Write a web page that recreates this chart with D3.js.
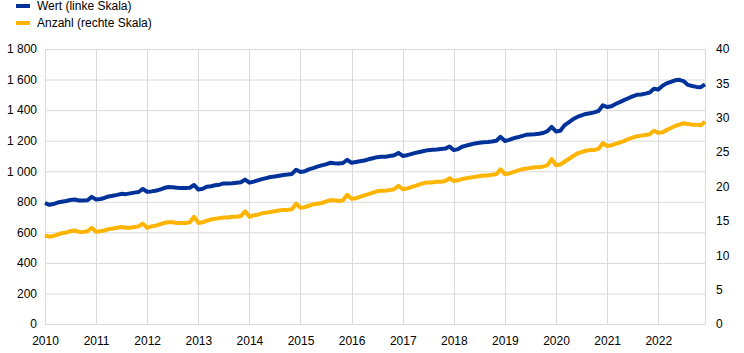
<!DOCTYPE html>
<html lang="de">
<head>
<meta charset="UTF-8">
<title>Wert und Anzahl</title>
<script src="https://cdn.jsdelivr.net/npm/d3@7"></script>
<style>
    body { margin: 0; background: #fff; }
    text { font-family: "Liberation Sans", Arial, sans-serif; font-size: 12px; fill: #000; }
</style>
</head>
<body>
<div id="app"></div>
<script>
    var width = 744;
    var height = 353;
    var margin = { left: 45, top: 49, right: 39, bottom: 29 };

    // Jahre (Tick-Beschriftungen)
    var years = [2010, 2011, 2012, 2013, 2014, 2015, 2016, 2017, 2018, 2019, 2020, 2021, 2022];
    var leftTicks = [0, 200, 400, 600, 800, 1000, 1200, 1400, 1600, 1800];
    var rightTicks = [0, 5, 10, 15, 20, 25, 30, 35, 40];

    // Wert (linke Skala), monatlich Jan 2010 - Dez 2022
    var wert = [
        792, 780, 785, 795, 800, 805, 812, 815, 808, 808, 810, 832,
        815, 818, 825, 835, 840, 845, 852, 850, 855, 860, 864, 884,
        866, 868, 872, 880, 890, 897, 895, 892, 890, 890, 892, 910,
        880, 885, 898, 902, 908, 912, 920, 920, 922, 925, 928, 945,
        925, 932, 940, 948, 955, 962, 965, 970, 975, 978, 982, 1010,
        995, 1000, 1012, 1020, 1030, 1038, 1045, 1055, 1052, 1050, 1054, 1075,
        1055, 1060, 1065, 1070, 1078, 1085, 1092, 1095, 1095, 1100, 1105, 1120,
        1100, 1105, 1112, 1120, 1126, 1132, 1138, 1140, 1142, 1145, 1148, 1162,
        1138, 1145, 1160, 1168, 1175, 1182, 1186, 1190, 1192, 1195, 1200, 1225,
        1198, 1205, 1215, 1222, 1230, 1238, 1240, 1242, 1245, 1250, 1262, 1290,
        1260, 1265, 1300, 1320, 1340, 1355, 1365, 1375, 1380, 1385, 1395, 1432,
        1420, 1425, 1440, 1452, 1465, 1478, 1490, 1500, 1502, 1508, 1515, 1540,
        1535, 1560, 1575, 1585, 1595, 1598, 1590, 1565, 1558, 1552, 1550, 1568
    ];

    // Anzahl (rechte Skala)
    var anzahl = [
        12.9, 12.7, 12.8, 13.0, 13.2, 13.3, 13.5, 13.6, 13.4, 13.4, 13.5, 14.0,
        13.4, 13.5, 13.6, 13.8, 13.9, 14.0, 14.1, 14.0, 14.0, 14.1, 14.2, 14.6,
        14.0, 14.2, 14.3, 14.5, 14.7, 14.8, 14.8, 14.7, 14.7, 14.7, 14.8, 15.6,
        14.7, 14.8, 15.0, 15.2, 15.3, 15.4, 15.5, 15.5, 15.6, 15.6, 15.7, 16.4,
        15.6, 15.8, 15.9, 16.1, 16.2, 16.3, 16.4, 16.5, 16.6, 16.6, 16.7, 17.5,
        16.9, 17.0, 17.2, 17.4, 17.5, 17.6, 17.8, 18.0, 18.0, 17.9, 18.0, 18.8,
        18.2, 18.3, 18.5, 18.7, 18.9, 19.1, 19.3, 19.4, 19.4, 19.5, 19.6, 20.1,
        19.6, 19.7, 19.9, 20.1, 20.3, 20.5, 20.6, 20.6, 20.7, 20.7, 20.8, 21.2,
        20.8, 20.9, 21.1, 21.2, 21.3, 21.4, 21.5, 21.6, 21.6, 21.7, 21.8, 22.5,
        21.8, 21.9, 22.1, 22.3, 22.5, 22.6, 22.7, 22.8, 22.8, 22.9, 23.1, 24.0,
        23.1, 23.2, 23.6, 24.0, 24.4, 24.8, 25.0, 25.2, 25.3, 25.3, 25.5, 26.3,
        25.9, 26.0, 26.2, 26.4, 26.6, 26.9, 27.1, 27.3, 27.4, 27.5, 27.6, 28.1,
        27.8, 27.9, 28.2, 28.5, 28.8, 29.0, 29.2, 29.1, 29.0, 29.0, 28.9, 29.4
    ];

    var months = wert.map(function (d, i) { return new Date(2010, i, 1); });

    var blue = "#003299";
    var yellow = "#ffb400";
    var grid = "#d9d9d9";

    var locale = d3.formatLocale({ decimal: ",", thousands: "\u00a0", grouping: [3], currency: ["", " €"] });
    var fmt = locale.format(",d");

    var svg = d3.select("#app")
        .append("svg")
        .attr("width", width)
        .attr("height", height);

    var x = d3.scaleTime()
        .domain([months[0], months[months.length - 1]])
        .range([margin.left, width - margin.right]);
    var yL = d3.scaleLinear()
        .domain([0, 1800])
        .range([height - margin.bottom, margin.top]);
    var yR = d3.scaleLinear()
        .domain([0, 40])
        .range([height - margin.bottom, margin.top]);

    // Gitter
    svg.append("g")
        .selectAll("line.h")
        .data(leftTicks)
        .enter()
        .append("line")
        .attr("x1", margin.left)
        .attr("x2", width - margin.right)
        .attr("y1", function (d) { return yL(d) + 0.5; })
        .attr("y2", function (d) { return yL(d) + 0.5; })
        .attr("stroke", grid);

    svg.append("g")
        .selectAll("line.v")
        .data(years)
        .enter()
        .append("line")
        .attr("x1", function (d) { return Math.round(x(new Date(d, 0, 1))) + 0.5; })
        .attr("x2", function (d) { return Math.round(x(new Date(d, 0, 1))) + 0.5; })
        .attr("y1", margin.top)
        .attr("y2", height - margin.bottom)
        .attr("stroke", grid);

    svg.append("line")
        .attr("x1", width - margin.right + 0.5)
        .attr("x2", width - margin.right + 0.5)
        .attr("y1", margin.top)
        .attr("y2", height - margin.bottom)
        .attr("stroke", grid);

    // Achsen
    var axL = d3.axisLeft(yL).tickValues(leftTicks).tickFormat(fmt).tickSize(0).tickPadding(8);
    var axR = d3.axisRight(yR).tickValues(rightTicks).tickSize(0).tickPadding(11);
    var axB = d3.axisBottom(x)
        .tickValues(years.map(function (d) { return new Date(d, 0, 1); }))
        .tickFormat(d3.timeFormat("%Y"))
        .tickSize(0).tickPadding(12);

    svg.append("g").attr("transform", "translate(" + margin.left + ",0)").call(axL);
    svg.append("g").attr("transform", "translate(" + (width - margin.right) + ",0)").call(axR);
    svg.append("g").attr("transform", "translate(0," + (height - margin.bottom) + ")").call(axB);
    svg.selectAll(".domain").remove();
    svg.selectAll(".tick text").style("font-family", "'Liberation Sans', Arial, sans-serif").style("font-size", "12px").attr("fill", "#000");

    // Linien
    var lineL = d3.line()
        .x(function (d, i) { return x(months[i]); })
        .y(function (d) { return yL(d); });
    var lineR = d3.line()
        .x(function (d, i) { return x(months[i]); })
        .y(function (d) { return yR(d); });

    svg.append("path")
        .datum(anzahl)
        .attr("d", lineR)
        .attr("fill", "none")
        .attr("stroke", yellow)
        .attr("stroke-width", 4)
        .attr("stroke-linejoin", "round");

    svg.append("path")
        .datum(wert)
        .attr("d", lineL)
        .attr("fill", "none")
        .attr("stroke", blue)
        .attr("stroke-width", 4)
        .attr("stroke-linejoin", "round");

    // Legende
    var legend = [
        { label: "Wert (linke Skala)", color: blue },
        { label: "Anzahl (rechte Skala)", color: yellow }
    ];
    var lg = svg.append("g")
        .selectAll("g")
        .data(legend)
        .enter()
        .append("g")
        .attr("transform", function (d, i) { return "translate(0," + (6 + i * 17) + ")"; });
    lg.append("rect")
        .attr("x", 16)
        .attr("y", -2)
        .attr("width", 14)
        .attr("height", 4)
        .attr("fill", function (d) { return d.color; });
    lg.append("text")
        .attr("x", 37)
        .attr("y", 4)
        .text(function (d) { return d.label; });
</script>
</body>
</html>
